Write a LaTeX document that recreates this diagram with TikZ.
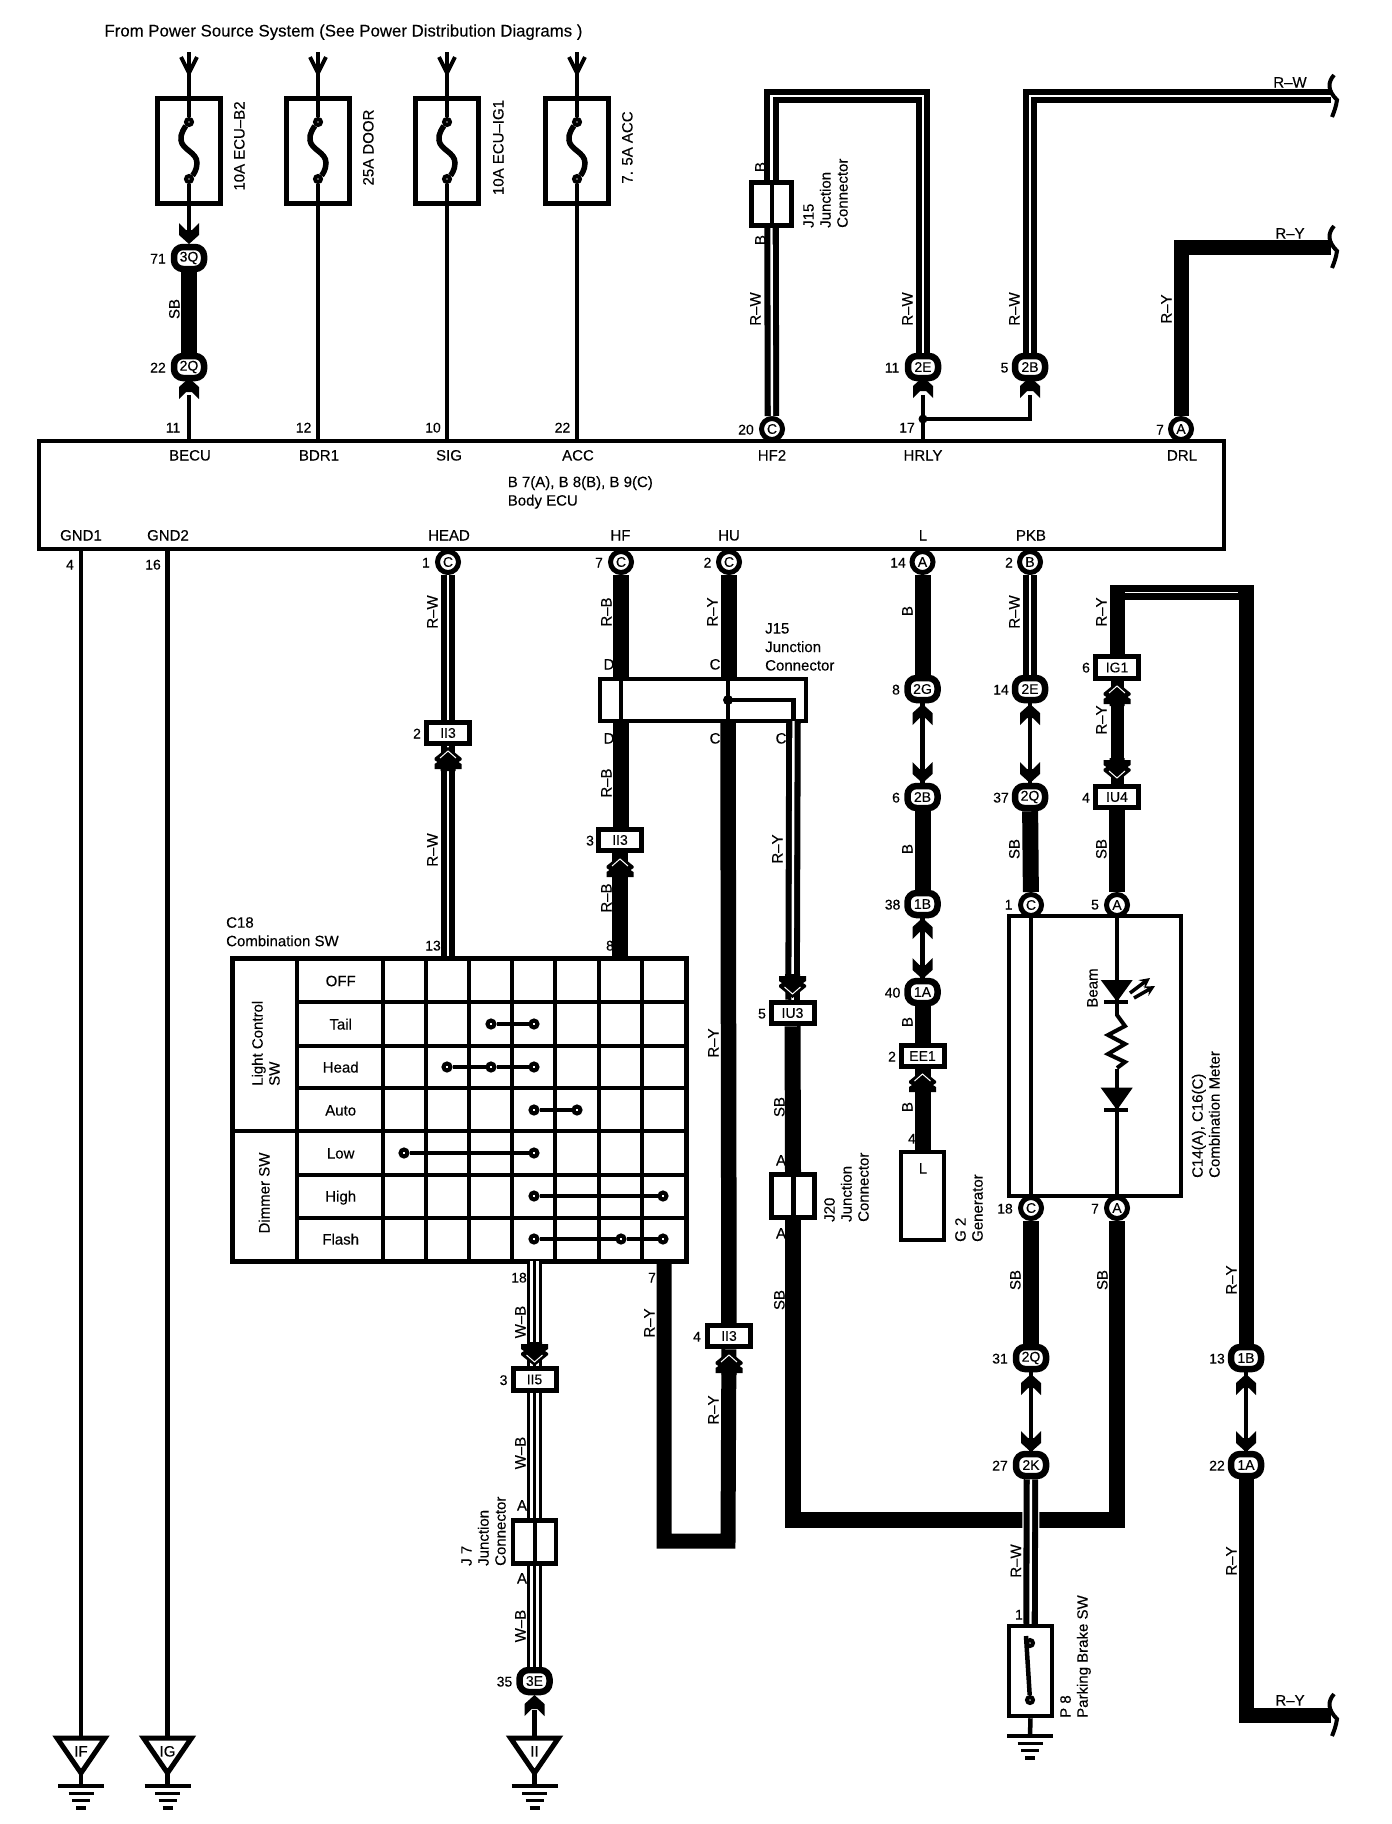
\documentclass[tikz,border=0pt]{standalone}
\usepackage{fontspec}
\setmainfont{Liberation Sans}[FakeBold=0.2]
\usetikzlibrary{shapes.geometric}
\tikzset{
  wirethin/.style={line width=4.5},
  wirethick/.style={line width=16},
  wirestr/.style={line width=14.5,postaction={draw=white,line width=2.4}},
  wiretri/.style={line width=15,postaction={draw=white,line width=9},postaction={draw=black,line width=3.4}},
  conn/.style={draw,rounded corners=9,fill=white,line width=6.5,minimum width=30,minimum height=22,inner sep=0,font=\fontsize{14}{14}\selectfont},
  pinc/.style={draw,circle,fill=white,line width=5,minimum size=21,inner sep=0,font=\fontsize{14}{14}\selectfont},
  cbox/.style={draw,fill=white,line width=5,minimum width=43,minimum height=21.5,inner sep=0,font=\fontsize{14}{14}\selectfont},
  bigbox/.style={draw,line width=4.5,inner sep=0},
  wlab/.style={rotate=90,inner sep=0,text height=11,text depth=0},
  tlab/.style={inner sep=0,text height=11,text depth=0},
  vblock/.style={rotate=90,anchor=south west,align=left,inner sep=0},
  hblock/.style={anchor=north west,align=left,inner sep=0,font=\fontsize{15}{18.5}\selectfont},
  swdot/.style={draw,circle,fill=white,line width=4,minimum size=7,inner sep=0},
  fusedot/.style={draw,circle,fill=white,line width=4,minimum size=6,inner sep=0},
  dart/.pic={\fill (0,-3)--(10,6)--(10,18)--(3,11)--(-3,11)--(-10,18)--(-10,6)--cycle;},
  chev/.pic={\fill (0,0)--(13.5,11)--(13.5,13)--(10.5,15)--(13.5,17)--(13.5,22)--(7.5,22)--(7.5,24)--(-7.5,24)--(-7.5,22)--(-13.5,22)--(-13.5,17)--(-10.5,15)--(-13.5,13)--(-13.5,11)--cycle;
    \draw[white,line width=1] (-8,11)--(0,4)--(8,11);},
  feed/.pic={\draw[line width=4] (-8,5)--(0,21)--(8,5);},
  wireend/.pic={\draw[line width=4] (3,-21) .. controls (-3,-14) and (-4,-6) .. (6,4) .. controls (5,11) and (3,16) .. (1,21);},
  bars/.pic={\foreach \y/\w in {0/23,7.5/12.5,14.5/9,22/5} \draw[line width=3.5] (-\w,\y)--(\w,\y);},
  earth/.pic={\draw[line width=5] (-24,3)--(24,3)--(0,38)--cycle;
    \draw[wirethin] (0,38)--(0,51);
    \pic at (0,51) {bars};}
}
\begin{document}
\begin{tikzpicture}[x=1pt,y=-1pt,font=\fontsize{15}{17}\selectfont]
  \useasboundingbox (0,0) rectangle (1392,1824);
  \fill[white] (0,0) rectangle (1392,1824);
  \node[tlab,font=\fontsize{16.8}{17}\selectfont] (title) at (343.5,31) {From Power Source System (See Power Distribution Diagrams )};
  % big boxes
  \node[bigbox,fill=white,minimum width=1185,minimum height=108] (ecu) at (631.5,495) {};
  \node[bigbox,fill=white,line width=5,minimum width=453.7,minimum height=303.7] (combsw) at (459.15,1109.85) {};
  \node[bigbox,fill=white,minimum width=172,minimum height=280] (meter) at (1095,1056) {};
  \node[bigbox,fill=white,minimum width=206,minimum height=42] (jcb) at (703,700) {};
  \node[bigbox,fill=white,minimum width=40,minimum height=43] (jtop) at (771.5,204) {};
  \node[bigbox,fill=white,minimum width=43,minimum height=43] (jtw) at (793,1196) {};
  \node[bigbox,fill=white,minimum width=43,minimum height=43] (jsev) at (534.5,1542) {};
  \node[bigbox,fill=white,minimum width=43,minimum height=88] (gen) at (922.5,1196) {};
  \node[bigbox,fill=white,minimum width=43,minimum height=90] (pksw) at (1030.5,1671) {};
  % fuses
  \foreach \n/\x in {a/189,b/318,c/447,d/577}{
    \node[bigbox,line width=5,minimum width=63,minimum height=105] (fuse\n) at (\x,150.5) {};
    \node[fusedot] (fuse\n t) at (\x,122) {};
    \node[fusedot] (fuse\n b) at (\x,179) {};
    \draw[wirethin] (\x,52)--(fuse\n t);
    \draw[wirethin] (fuse\n b)--(fuse\n.south);
    \draw[line width=5.5] (fuse\n t) .. controls (\x-4,127) and (\x-9,134) .. (\x-8,140) .. controls (\x-7,150) and (\x+8,152) .. (\x+8,163) .. controls (\x+8,170) and (\x+4,175) .. (fuse\n b);
    \pic at (\x,52) {feed};
  }
  \node[wlab] (fa) at (239,146) {10A ECU--B2};
  \node[wlab] (fb) at (368,147.5) {25A DOOR};
  \node[wlab] (fc) at (498,147.5) {10A ECU--IG1};
  \node[wlab] (fd) at (627,147.5) {7. 5A ACC};
  % oval connectors
  \foreach \n/\x/\y/\t in {qa/189/258/3Q,qb/189/367/2Q,ea/923/367/2E,ba/1030/367/2B,gg/922.5/689/2G,eb/1030/689/2E,bb/922.5/797/2B,qc/1030/797/2Q,ob/922.5/904/1B,oa/922.5/992/1A,te/534.5/1681/3E,qd/1031/1358/2Q,kk/1031/1465/2K,oc/1246/1358/1B,od/1246/1465/1A}
    \node[conn] (\n) at (\x,\y) {\t};
  % round connectors
  \foreach \n/\x/\y/\t in {hfb/772/429/C,drl/1181/429/A,head/448/562/C,hf/621/562/C,hu/729/562/C,ll/922.5/562/A,pkb/1030/562/B,ma/1031/905/C,mb/1117/905/A,mc/1031/1208/C,md/1117/1208/A}
    \node[pinc] (\n) at (\x,\y) {\t};
  % box connectors
  \foreach \n/\x/\y/\t in {iia/448/733/II3,iib/620/840/II3,iuc/792.5/1013/IU3,igo/1117/667.5/IG1,iuf/1117/797/IU4,eeo/922.5/1056/EE1,iic/729/1336/II3,iiv/534.5/1379.5/II5}
    \node[cbox] (\n) at (\x,\y) {\t};
  % top left wires
  \draw[wirethin] (fusea.south)--(189,232);
  \draw[wirethick] (qa)--(qb);
  \draw[wirethin] (189,395)--(qb |- ecu.north);
  \draw[wirethin] (fuseb.south)--(fuseb.south |- ecu.north);
  \draw[wirethin] (fusec.south)--(fusec.south |- ecu.north);
  \draw[wirethin] (fused.south)--(fused.south |- ecu.north);
  % top right wires
  \coordinate (endrw) at (1331,96);
  \coordinate (endry) at (1331,247);
  \coordinate (endryb) at (1331,1715);
  \coordinate (hrly) at (923,419);
  \draw[wirestr] (ea) -- (ea |- 0,96) -- (771.5,96) -- (jtop.north);
  \draw[wirestr] (jtop.south) -- (hfb);
  \draw[line width=4] (jtop.north)--(jtop.south);
  \draw[wirestr] (ba) -- (ba |- endrw) -- (endrw);
  \draw[line width=15] (drl) |- (endry);
  \draw[wirethin] (ea |- ecu.north) -- (923,395);
  \draw[wirethin] (hrly) -| (1030,395);
  \fill (hrly) circle (4.5);
  \pic at (1331,96) {wireend};
  \pic at (1331,247) {wireend};
  \pic at (1331,1715) {wireend};
  % lower left wires
  \draw[wirethin] (81,549)--(81,1736);
  \draw[wirethin] (167.5,549)--(167.5,1736);
  \draw[wirestr] (head)--(iia);
  \draw[wirestr] (iia)--(iia |- combsw.north);
  \draw[wirethick] (hf)--(hf |- jcb.north);
  \draw[wirethick] (621,721)--(621,827);
  \draw[wirethick] (iib)--(iib |- combsw.north);
  \draw[line width=4] (621,679)--(621,721);
  \draw[wirethick] (hu)--(hu |- jcb.north);
  \draw[line width=15.5] (728,721)--(iic);
  \draw[line width=4] (728,679)--(728,721);
  \coordinate (hfdot) at (728,700);
  \fill (hfdot) circle (5);
  \draw[wirethin] (hfdot)-|(793.5,721);
  \draw[wirestr] (793.5,721)--(iuc);
  \draw[line width=15] (iic) -- (728,1541) -- (664,1541) -- (664,1261);
  \draw[wiretri] (534.5,1261)--(iiv);
  \draw[wiretri] (iiv)--(jsev.north);
  \draw[wiretri] (jsev.south)--(te);
  \draw[line width=4] (jsev.north)--(jsev.south);
  \draw[wirethin] (534.5,1710)--(534.5,1736);
  % J20 and the long loop
  \draw[wirethick] (iuc)--(jtw.north);
  \draw[wirethick] (jtw.south)--(793,1520)--(1117,1520)--(md);
  \draw[line width=5] (jtw.north)--(jtw.south);
  % middle columns
  \draw[wirethick] (ll)--(gg);
  \draw[wirethin] (gg)--(bb);
  \draw[wirethick] (bb)--(ob);
  \draw[wirethin] (ob)--(oa);
  \draw[wirethick] (oa)--(eeo);
  \draw[wirethick] (eeo)--(gen.north);
  \draw[wirestr] (pkb)--(eb);
  \draw[wirethin] (eb)--(qc);
  \draw[wirethick] (qc)--(ma);
  \draw[line width=15] (igo) -- (1117,592) -- (1246,592) -- (oc);
  \draw[white,line width=1] (1125,592)--(1238,592);
  \draw[line width=13] (igo)--(iuf);
  \draw[wirethick] (iuf)--(mb);
  \draw[wirethin] (ma)--(mc);
  \draw[wirethin] (mb)--(md);
  \draw[wirethick] (mc)--(qd);
  \draw[wirethin] (qd)--(kk);
  \draw[wirethin] (oc)--(od);
  \draw[line width=15] (od) |- (endryb);
  \draw[preaction={draw=white,line width=17},wirestr] (kk)--(pksw.north);
  % darts and chevrons
  \foreach \x/\y in {189/381,923/380,1030/380,922.5/707,1030/707,922.5/921,534.5/1698,1031/1377,1246/1377}
    \pic at (\x,\y) {dart};
  \foreach \x/\y in {189/241,922.5/780,1030/780,922.5/976,1031/1449,1246/1449}
    \pic[rotate=180] at (\x,\y) {dart};
  \foreach \x/\y in {448/747,620/855,729/1351,1117/682,922.5/1070}
    \pic at (\x,\y) {chev};
  \foreach \x/\y in {1117/782,792.5/998,534.5/1366}
    \pic[rotate=180] at (\x,\y) {chev};
  % parking brake switch
  \node[fusedot] (swa) at (1030,1643) {};
  \node[fusedot] (swb) at (1030,1700) {};
  \draw[wirethin] (1026,1636)--(swb);
  \coordinate (gpk) at (1030,1736);
  \draw[wirethin] (pksw.south)--(gpk);
  \pic at (gpk) {bars};
  % grounds
  \pic at (81,1735) {earth};
  \pic at (167.5,1735) {earth};
  \pic at (534.5,1735) {earth};
  \node[tlab] (gif) at (81,1751) {IF};
  \node[tlab] (gig) at (167.5,1751) {IG};
  \node[tlab] (gii) at (534.5,1751) {II};
  % switch table
  \foreach \x in {296.7,382.7,426,469,512,555,599,641.7}
    \draw[line width=4] (\x,958)--(\x,1261.7);
  \foreach \y in {1001.7,1045.7,1088,1175,1218}
    \draw[line width=4] (296.7,\y)--(686,\y);
  \draw[line width=4] (232.3,1131)--(686,1131);
  \foreach \y/\t [count=\i] in {980.7/OFF,1024/Tail,1067/Head,1110/Auto,1153/Low,1196/High,1239/Flash}
    \node[tlab] (row\i) at (340.7,\y) {\t};
  \foreach \n/\x/\y in {ta/491/1024,tb/534/1024,ha/447/1067,hb/491/1067,hc/534/1067,aa/534/1110,ab/577/1110,la/404/1153,lb/534/1153,ga/534/1196,gb/663/1196,fa/534/1239,fb/621/1239,fc/663/1239}
    \node[swdot] (d\n) at (\x,\y) {};
  \draw[line width=3.5] (dta)--(dtb);
  \draw[line width=3.5] (dha)--(dhb)--(dhc);
  \draw[line width=3.5] (daa)--(dab);
  \draw[line width=3.5] (dla)--(dlb);
  \draw[line width=3.5] (dga)--(dgb);
  \draw[line width=3.5] (dfa)--(dfb)--(dfc);
  \node[vblock] (lcsw) at (280,1086) {Light Control\\SW};
  \node[wlab] (dmsw) at (264,1193) {Dimmer SW};
  \node[hblock] (cbsw) at (226,917) {C18\\Combination SW};
  % combination meter
  \fill (1100.7,980)--(1132.7,980)--(1117,1001.7)--cycle;
  \draw[line width=4] (1104,1001.7)--(1128,1001.7);
  \draw[-stealth,line width=3.5] (1130,993)--(1150,978);
  \draw[-stealth,line width=3.5] (1134,998)--(1155,986);
  \draw[fill=white,draw=white] (1105,1016) rectangle (1129,1068);
  \draw[line width=4] (1117,1015)--(1125,1026)--(1108,1035)--(1125,1044)--(1108,1054)--(1125,1062)--(1117,1068);
  \fill (1100.7,1087.7)--(1132.7,1087.7)--(1117,1110)--cycle;
  \draw[line width=4] (1104,1110)--(1128,1110);
  \node[wlab] (beam) at (1092,988) {Beam};
  % ECU and device texts
  \foreach \x/\y/\t [count=\i] in {190/455/BECU,319/455/BDR1,449/455/SIG,578/455/ACC,772/455/HF2,923/455/HRLY,1182/455/DRL,81/535/GND1,168/535/GND2,449/535/HEAD,620.5/535/HF,729/535/HU,923/535/L,1031/535/PKB,923/1168/L}
    \node[tlab] (term\i) at (\x,\y) {\t};
  \node[hblock] (ecuname) at (507.6,476) {B 7(A), B 8(B), B 9(C)\\Body ECU};
  \node[hblock] (jname) at (765,623) {J15\\Junction\\Connector};
  \node[vblock] (jtopname) at (848,228) {J15\\Junction\\Connector};
  \node[vblock] (jtwname) at (869,1222) {J20\\Junction\\Connector};
  \node[vblock] (jsevname) at (506,1566) {J 7\\Junction\\Connector};
  \node[vblock] (genname) at (983,1242) {G 2\\Generator};
  \node[vblock] (pkname) at (1091,1718) {P 8\\Parking Brake SW};
  \node[vblock] (mtname) at (1220,1178) {C14(A), C16(C)\\Combination Meter};
  % pin numbers
  \foreach \x/\y/\t [count=\i] in {158/258/71,158/367/22,173/427/11,303.6/427/12,433/427/10,562.5/427/22,746/429/20,892/367/11,1004.5/367/5,907/427/17,1160/429/7,70/564/4,153/564/16,417/733/2,426/562/1,599/562/7,707.5/562/2,898/562/14,1009/562/2,590/840/3,896/689/8,896/797/6,892.6/904/38,892.6/992/40,1001/689/14,1001/797/37,1008.6/904/1,1086/667/6,1086/797/4,1095/904/5,762/1013/5,892/1056/2,912/1138/4,1005/1208/18,1095/1208/7,1000/1358/31,1000/1465/27,1217/1358/13,1217/1465/22,1019/1614/1,697/1336/4,503.6/1379.5/3,504.5/1681/35,433/945/13,610/945/8,519/1277/18,652/1277/7}
    \node[tlab] (num\i) at (\x,\y) {\fontsize{14}{14}\selectfont\t};
  % wire colours
  \foreach \x/\y/\t [count=\i] in {174/309/SB,755/309/R--W,907/309/R--W,1014/309/R--W,1166/309/R--Y,432/612/R--W,432/850/R--W,606/612/R--B,606/783/R--B,606/898/R--B,712/612/R--Y,777/849/R--Y,713/1043/R--Y,907/611/B,907/849/B,907/1022/B,907/1107/B,1014/612/R--W,1014/849/SB,1101/612/R--Y,1101/720/R--Y,1101/849/SB,779/1107/SB,779/1300/SB,1015/1280/SB,1102/1280/SB,1231/1280/R--Y,1015.5/1561/R--W,1231/1561/R--Y,649/1323/R--Y,713/1410/R--Y,520/1322/W--B,520/1453/W--B,520/1626/W--B,760/167/B,760/240/B}
    \node[wlab] (wc\i) at (\x,\y) {\t};
  \foreach \x/\y/\t [count=\i] in {1290/82/R--W,1290/233/R--Y,1290/1700/R--Y,609/664/D,609/738/D,715/664/C,715/738/C,781/738/C,522/1505/A,522/1578/A,781/1160/A,781/1233/A}
    \node[tlab] (wh\i) at (\x,\y) {\t};
\end{tikzpicture}
\end{document}
